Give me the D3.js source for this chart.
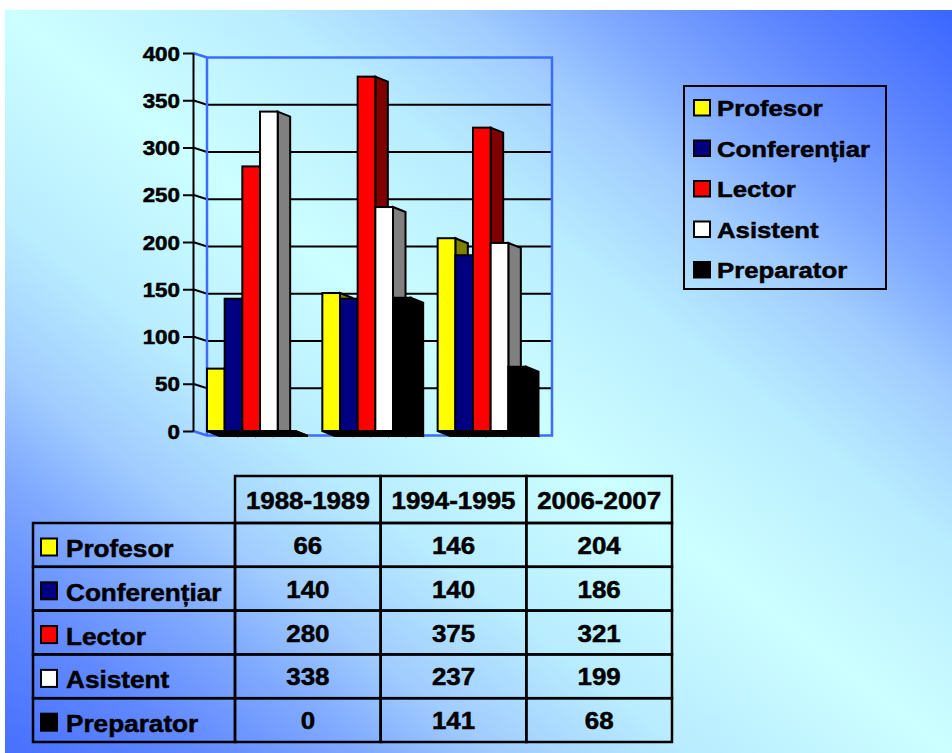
<!DOCTYPE html>
<html>
<head>
<meta charset="utf-8">
<script src="https://cdn.jsdelivr.net/npm/d3@7"></script>
<style>
  body { margin: 0; background: #fff; }
  svg { display: block; font-family: 'Liberation Sans', Arial, sans-serif; font-weight: bold; }
  text { stroke: #000; stroke-width: 0.5px; }
</style>
</head>
<body>
<svg id="chart" width="952" height="753"></svg>
<script>

const years = ['1988-1989', '1994-1995', '2006-2007']
const series = ['Profesor', 'Conferențiar', 'Lector', 'Asistent', 'Preparator']

const profesor = [66, 146, 204]
const conferentiar = [140, 140, 186]
const lector = [280, 375, 321]
const asistent = [338, 237, 199]
const preparator = [0, 141, 68]

const yTicks = [0, 50, 100, 150, 200, 250, 300, 350, 400]

const frontColors = ['#ffff00', '#000080', '#ff0000', '#ffffff', '#000000']
const sideColors = ['#808000', '#000040', '#800000', '#808080', '#000000']

const rows = [profesor, conferentiar, lector, asistent, preparator]
    .map((values, i) => ({ name: series[i], values: values, i: i }))

const svg = d3.select('#chart')

// background, reflected diagonal gradient
const grad = svg.append('defs').append('linearGradient')
    .attr('id', 'bg')
    .attr('x1', 1).attr('y1', 0).attr('x2', 0).attr('y2', 1)

const stops = [
    [0, '#3a66ff'], [0.1, '#5e86ff'], [0.19, '#80aaff'], [0.26, '#a0ccff'], [0.36, '#b8ecff'], [0.5, '#ccffff'],
    [0.64, '#b8ecff'], [0.74, '#a0ccff'], [0.81, '#80aaff'], [0.9, '#6088ff'], [1, '#4670ff']
]
grad.selectAll('stop').data(stops).enter().append('stop')
    .attr('offset', d => d[0])
    .attr('stop-color', d => d[1])

svg.append('rect')
    .attr('x', 5).attr('y', 10)
    .attr('width', 947).attr('height', 743)
    .attr('fill', 'url(#bg)')

// scales
const axisX = 193
const wallDx = 14
const wallDy = 4.5
const dx = 12.5
const dy = 5

const y = d3.scaleLinear().domain([0, 400]).range([431, 53])

const x0 = d3.scaleBand().domain(years)
    .range([axisX + wallDx, 553])
    .paddingInner(0.234).paddingOuter(0.117).align(0)

const x1 = d3.scaleBand().domain(series).range([0, x0.bandwidth()])

const wallLeft = axisX + wallDx
const wallRight = x0.range()[1] - 1

// side wall grid lines and back wall grid lines
const grid = svg.append('g').attr('id', 'grid')

grid.selectAll('.hline').data(yTicks.slice(1, -1)).enter().append('path')
    .attr('class', 'hline')
    .attr('d', d => `M${axisX},${y(d)}L${wallLeft},${y(d) + wallDy}L${wallRight},${y(d) + wallDy}`)
    .attr('fill', 'none')
    .attr('stroke', '#000')
    .attr('stroke-width', 2)

grid.append('path')
    .attr('d', `M${axisX},${y(400)}L${wallLeft},${y(400) + wallDy}L${wallRight},${y(400) + wallDy}` +
        `L${wallRight},${y(0) + wallDy}L${wallLeft},${y(0) + wallDy}L${axisX},${y(0)}` +
        `M${wallLeft},${y(400) + wallDy}L${wallLeft},${y(0) + wallDy}`)
    .attr('fill', 'none')
    .attr('stroke', '#3d6bff')
    .attr('stroke-width', 2.5)

// bars
const groups = svg.append('g').attr('id', 'bars')
    .selectAll('g').data(years).enter().append('g')

const bars = groups.selectAll('g')
    .data((year, j) => rows.map(r => ({ year: year, name: r.name, i: r.i, value: r.values[j] })))
    .enter().append('g')

const geom = d => {
    const left = x0(d.year) + x1(d.name)
    const right = left + x1.bandwidth()
    return { left: left, right: right, top: y(d.value), base: y(0) }
}

bars.append('path')
    .attr('d', d => {
        const g = geom(d)
        return `M${g.left},${g.base}L${g.right},${g.base}L${g.right + dx},${g.base + dy}L${g.left + dx},${g.base + dy}Z`
    })
    .attr('fill', '#000')
    .attr('stroke', '#000')
    .attr('stroke-width', 2)

bars.append('path')
    .attr('d', d => {
        const g = geom(d)
        return `M${g.right},${g.top}L${g.right + dx},${g.top + dy}L${g.right + dx},${g.base + dy}L${g.right},${g.base}Z`
    })
    .attr('fill', d => sideColors[d.i])
    .attr('stroke', '#000')
    .attr('stroke-width', 2)

bars.append('rect')
    .attr('x', d => geom(d).left)
    .attr('y', d => geom(d).top)
    .attr('width', x1.bandwidth())
    .attr('height', d => geom(d).base - geom(d).top)
    .attr('fill', d => frontColors[d.i])
    .attr('stroke', '#000')
    .attr('stroke-width', 2)

// y axis
const yAxis = d3.axisLeft(y).tickValues(yTicks).tickSize(10).tickSizeOuter(0)

const yg = svg.append('g').attr('id', 'yg')
    .attr('transform', `translate(${axisX},0)`)
    .call(yAxis)
    .attr('font-size', 20)
    .attr('font-family', null)

yg.selectAll('.domain, .tick line').attr('stroke', '#000').attr('stroke-width', 2)
yg.selectAll('.tick text')
    .attr('x', null)
    .attr('dy', '0.36em')
    .attr('fill', '#000')
    .attr('transform', 'translate(-13,0) scale(1.12,1)')

// text helper with horizontal stretch
function label (sel, x, yy, text, size, sx, anchor) {
    sel.append('text')
        .attr('transform', `translate(${x},${yy}) scale(${sx},1)`)
        .attr('text-anchor', anchor || 'start')
        .attr('font-size', size)
        .attr('fill', '#000')
        .text(text)
}

// legend
const legend = svg.append('g').attr('id', 'legend')

legend.append('rect')
    .attr('x', 684).attr('y', 86)
    .attr('width', 202).attr('height', 203)
    .attr('fill', 'none')
    .attr('stroke', '#000')
    .attr('stroke-width', 2)

const legendY = d3.scalePoint().domain(series).range([116, 278])

rows.forEach(r => {
    legend.append('rect')
        .attr('x', 694).attr('y', legendY(r.name) - 16)
        .attr('width', 16).attr('height', 15.5)
        .attr('fill', frontColors[r.i])
        .attr('stroke', '#000')
        .attr('stroke-width', 2)
    label(legend, 717, legendY(r.name), r.name, 22, 1.17)
})

// data table
const table = svg.append('g').attr('id', 'table')

const labelLeft = 33
const colX = d3.scaleBand().domain(years).range([235, 672])
const headTop = 476
const headBottom = 523
const rowY = d3.scaleBand().domain(series).range([headBottom, 742])

const cellStyle = s => s.attr('fill', 'none').attr('stroke', '#000').attr('stroke-width', 2.5)

years.forEach(yr => {
    table.append('rect')
        .attr('x', colX(yr)).attr('y', headTop)
        .attr('width', colX.bandwidth()).attr('height', headBottom - headTop)
        .call(cellStyle)
    label(table, colX(yr) + colX.bandwidth() / 2, headTop + 33, yr, 24, 1.08, 'middle')
})

rows.forEach(r => {
    const top = rowY(r.name)
    table.append('rect')
        .attr('x', labelLeft).attr('y', top)
        .attr('width', colX.range()[0] - labelLeft).attr('height', rowY.bandwidth())
        .call(cellStyle)
    table.append('rect')
        .attr('x', 41).attr('y', top + 15.5)
        .attr('width', 16).attr('height', 17)
        .attr('fill', frontColors[r.i])
        .attr('stroke', '#000')
        .attr('stroke-width', 2)
    label(table, 66, top + 34, r.name, 24, 1.09)

    years.forEach((yr, j) => {
        table.append('rect')
            .attr('x', colX(yr)).attr('y', top)
            .attr('width', colX.bandwidth()).attr('height', rowY.bandwidth())
            .call(cellStyle)
        label(table, colX(yr) + colX.bandwidth() / 2, top + 31, r.values[j], 24, 1.08, 'middle')
    })
})

</script>
</body>
</html>
